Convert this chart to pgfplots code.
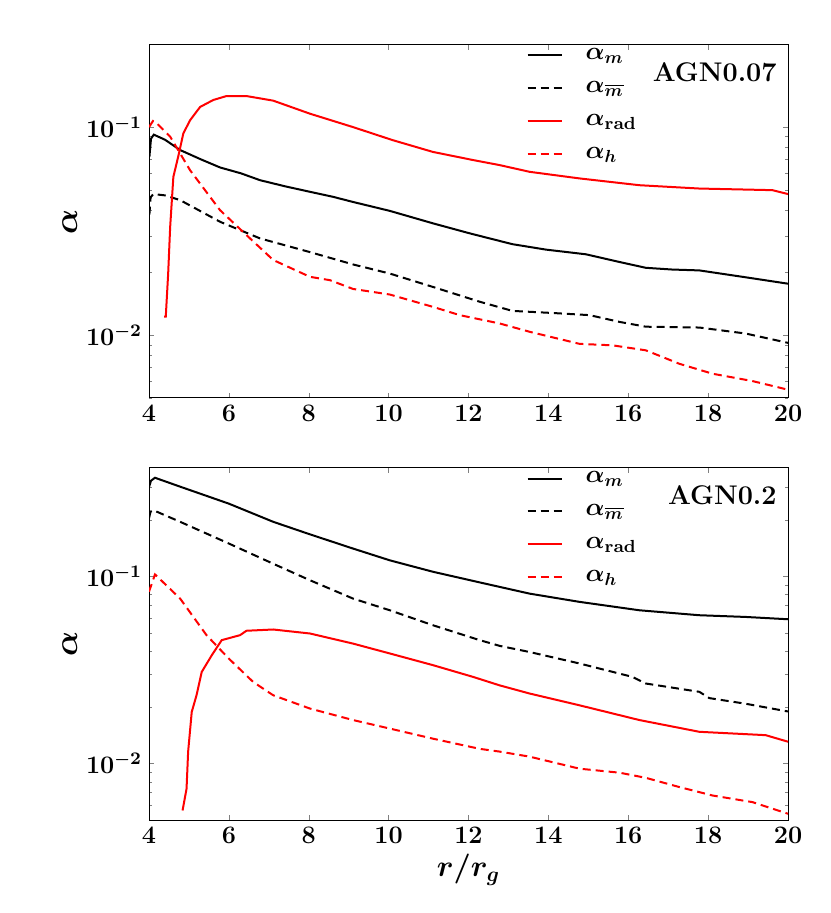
\RequirePackage{fix-cm}
\documentclass[border=0pt]{standalone}
\usepackage{pgfplots}
\pgfplotsset{compat=1.18}

\pgfplotsset{
  legend image code/.code={\draw[#1] (0pt,0pt) -- (17pt,0pt);},
  solidk/.style={black, line width=1pt, solid},
  dashk/.style={black, line width=1pt, dash pattern=on 4pt off 2.5pt},
  solidr/.style={red, line width=1pt, solid},
  dashr/.style={red, line width=1pt, dash pattern=on 4pt off 2.5pt},
}
\newcommand{\legsp}[1]{\hspace*{9.5pt}#1}

\begin{document}
\begin{tikzpicture}[x=1pt,y=1pt]
\useasboundingbox (0,0) rectangle (415,456.5);

% ---------------- top panel ----------------
\begin{axis}[
    at={(74.5pt,257.5pt)}, anchor=south west,
    scale only axis, width=319.5pt, height=176.5pt,
    ymode=log, log basis y=10,
    xmin=4, xmax=20, ymin=0.005, ymax=0.248,
    xtick={4,6,...,20},
    tick align=inside,
    major tick length=2.5pt, minor tick length=1.5pt,
    axis line style={line width=0.5pt},
    ticklabel style={font=\boldmath\fontsize{12.6}{15}\selectfont},
    ylabel={$\alpha$},
    ylabel style={font=\boldmath\fontsize{16.5}{19}\selectfont, at={(axis description cs:-0.124,0.5)}, anchor=center},
    legend style={draw=none, fill=none, at={(0.581,1.014)}, anchor=north west,
      font=\boldmath\fontsize{12.5}{15}\selectfont, row sep=5.4pt},
    legend cell align=left,
]
\addplot[solidk] coordinates {
(4.01,0.072) (4.05,0.088) (4.12,0.092) (4.4,0.087) (4.78,0.0776) (5.3,0.070)
(5.78,0.064) (6.3,0.060) (6.78,0.0556) (7.4,0.052) (8.03,0.0489) (8.6,0.0463)
(9.11,0.0437) (10.03,0.0396) (11.11,0.0345) (12.0,0.031) (12.5,0.0293)
(13.1,0.0274) (13.94,0.0258) (14.94,0.0245) (15.78,0.0225) (16.44,0.0211)
(17.1,0.0207) (17.78,0.0205) (18.94,0.019) (20,0.0177)};
\addlegendentry{\legsp{$\alpha_m$}}
\addplot[dashk] coordinates {
(4.01,0.038) (4.04,0.046) (4.11,0.0477) (4.4,0.047) (4.78,0.0446) (5.78,0.0351)
(6.78,0.0292) (8.03,0.0251) (9.11,0.0219) (10.03,0.0198) (11.1,0.0171)
(12.28,0.0145) (13.1,0.0131) (14.11,0.0128) (15.03,0.0125) (15.78,0.0116)
(16.44,0.011) (17.78,0.0109) (18.94,0.0102) (20,0.0092)};
\addlegendentry{\legsp{$\alpha_{\overline{m}}$}}
\addplot[solidr] coordinates {
(4.38,0.0123) (4.42,0.0123) (4.48,0.0198) (4.53,0.0332) (4.61,0.0577)
(4.73,0.072) (4.86,0.0933) (5.03,0.108) (5.28,0.125) (5.61,0.135) (5.94,0.141)
(6.44,0.141) (7.11,0.134) (8.03,0.116) (9.11,0.1) (10.1,0.0866) (11.11,0.076)
(12.11,0.0695) (12.78,0.0657) (13.53,0.061) (14.78,0.0567) (16.28,0.0526)
(17.78,0.0507) (19.61,0.0498) (20,0.0477)};
\addlegendentry{\legsp{$\alpha_{\mathrm{rad}}$}}
\addplot[dashr] coordinates {
(4.0,0.100) (4.1,0.107) (4.2,0.104) (4.53,0.09) (5.03,0.062) (5.78,0.0399)
(6.44,0.0303) (7.11,0.023) (8.03,0.0191) (8.53,0.0184) (9.11,0.0167)
(10.03,0.0157) (11.11,0.0137) (11.78,0.0125) (12.78,0.0114) (13.53,0.0104)
(14.78,0.0091) (15.61,0.00895) (16.44,0.00847) (17.28,0.0073) (18.11,0.00654)
(19.11,0.00603) (20,0.00548)};
\addlegendentry{\legsp{$\alpha_h$}}
\node[anchor=east, inner sep=0pt, xshift=-5.5pt, font=\bfseries\fontsize{13.5}{15}\selectfont]
  at (rel axis cs:1,0.923) {AGN0.07};
\end{axis}

% ---------------- bottom panel ----------------
\begin{axis}[
    at={(74.5pt,46.5pt)}, anchor=south west,
    scale only axis, width=319.5pt, height=176pt,
    ymode=log, log basis y=10,
    xmin=4, xmax=20, ymin=0.005, ymax=0.38,
    xtick={4,6,...,20},
    tick align=inside,
    major tick length=2.5pt, minor tick length=1.5pt,
    axis line style={line width=0.5pt},
    ticklabel style={font=\boldmath\fontsize{12.6}{15}\selectfont},
    ylabel={$\alpha$},
    ylabel style={font=\boldmath\fontsize{16.5}{19}\selectfont, at={(axis description cs:-0.124,0.5)}, anchor=center},
    xlabel={$r/r_g$},
    xlabel style={font=\boldmath\fontsize{15}{17}\selectfont, at={(axis description cs:0.5,-0.142)}, anchor=center},
    legend style={draw=none, fill=none, at={(0.581,1.014)}, anchor=north west,
      font=\boldmath\fontsize{12.5}{15}\selectfont, row sep=5.4pt},
    legend cell align=left,
]
\addplot[solidk] coordinates {
(4.0,0.30) (4.05,0.325) (4.15,0.337) (4.78,0.302) (6.0,0.245) (7.11,0.196)
(8.03,0.168) (9.11,0.141) (10.03,0.122) (11.11,0.106) (12.28,0.093)
(12.78,0.088) (13.53,0.081) (14.78,0.0732) (16.28,0.066) (17.78,0.0621)
(18.94,0.0608) (20,0.0591)};
\addlegendentry{\legsp{$\alpha_m$}}
\addplot[dashk] coordinates {
(4.0,0.205) (4.04,0.222) (4.11,0.226) (4.78,0.196) (6.0,0.15) (7.11,0.117)
(8.03,0.0955) (9.11,0.0762) (10.03,0.066) (11.11,0.0549) (12.28,0.0457)
(12.78,0.0426) (13.53,0.0395) (14.78,0.0343) (16.1,0.0291) (16.44,0.0268)
(17.78,0.0242) (18.03,0.0224) (18.94,0.0209) (20,0.019)};
\addlegendentry{\legsp{$\alpha_{\overline{m}}$}}
\addplot[solidr] coordinates {
(4.84,0.00562) (4.94,0.00734) (4.98,0.0116) (5.07,0.0189) (5.19,0.0232)
(5.32,0.0309) (5.57,0.0379) (5.82,0.0457) (6.28,0.0486) (6.44,0.0513)
(7.11,0.0521) (8.03,0.0496) (9.11,0.0438) (10.03,0.0388) (11.11,0.0336)
(12.11,0.0291) (12.78,0.0262) (13.53,0.0237) (14.78,0.0205) (16.28,0.0171)
(17.78,0.0148) (19.44,0.0142) (20,0.0131)};
\addlegendentry{\legsp{$\alpha_{\mathrm{rad}}$}}
\addplot[dashr] coordinates {
(4.0,0.083) (4.15,0.1026) (4.78,0.0762) (5.44,0.0486) (6.0,0.0364)
(6.61,0.0273) (7.11,0.0232) (8.03,0.0197) (9.11,0.0171) (10.03,0.0154)
(11.11,0.0136) (12.28,0.012) (12.78,0.0116) (13.53,0.0109) (14.78,0.0094)
(15.78,0.00895) (16.44,0.0084) (17.28,0.0075) (18.11,0.00676) (19.11,0.00623)
(20,0.0054)};
\addlegendentry{\legsp{$\alpha_h$}}
\node[anchor=east, inner sep=0pt, xshift=-5.5pt, font=\bfseries\fontsize{13.5}{15}\selectfont]
  at (rel axis cs:1,0.923) {AGN0.2};
\end{axis}
\end{tikzpicture}
\end{document}
